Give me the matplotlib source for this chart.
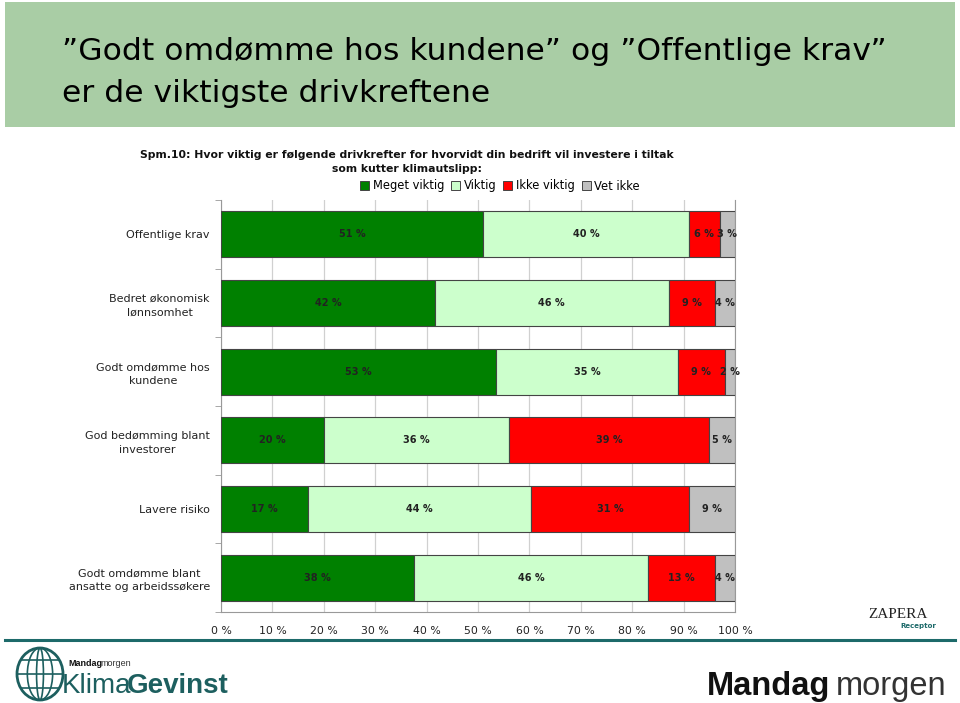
import matplotlib
matplotlib.use('Agg')
import matplotlib.pyplot as plt
import matplotlib.patches as mpatches
import numpy as np

plt.rcParams['font.family'] = ['DejaVu Sans']

categories = ['Offentlige krav', 'Bedret økonomisk\nlønnsomhet', 'Godt omdømme hos\nkundene',
              'God bedømming blant\ninvestorer', 'Lavere risiko', 'Godt omdømme blant\nansatte og arbeidssøkere']
series = ['Meget viktig', 'Viktig', 'Ikke viktig', 'Vet ikke']
meget_viktig = [51, 42, 53, 20, 17, 38]
viktig = [40, 46, 35, 36, 44, 46]
ikke_viktig = [6, 9, 9, 39, 31, 13]
vet_ikke = [3, 4, 2, 5, 9, 4]
colors = ['#008000', '#ccffcc', '#ff0000', '#c0c0c0']
xticks = [0, 10, 20, 30, 40, 50, 60, 70, 80, 90, 100]

vals = np.array([meget_viktig, viktig, ikke_viktig, vet_ikke], dtype=float)
shares = vals / vals.sum(axis=0) * 100

fig = plt.figure(figsize=(9.6, 7.03), dpi=100)
W, H = 960, 703

def fx(px):
    return px / W

def fy(py):
    return (H - py) / H

# green header band
fig.patches.append(mpatches.Rectangle((fx(5), fy(127)), fx(950), 125 / H, transform=fig.transFigure,
                                      facecolor='#a9cda5', edgecolor='none', zorder=0))
fig.text(fx(62), fy(52), '”Godt omdømme hos kundene” og ”Offentlige krav”', fontsize=22.6,
         va='center', ha='left', color='black')
fig.text(fx(62), fy(93), 'er de viktigste drivkreftene', fontsize=22.6, va='center', ha='left', color='black')

# question text
fig.text(fx(407), fy(155), 'Spm.10: Hvor viktig er følgende drivkrefter for hvorvidt din bedrift vil investere i tiltak',
         fontsize=7.8, fontweight='bold', ha='center', va='center', color='#111111')
fig.text(fx(407), fy(169), 'som kutter klimautslipp:', fontsize=7.8, fontweight='bold',
         ha='center', va='center', color='#111111')

ax = fig.add_axes([fx(221), fy(612), fx(735 - 221), 412 / H])
y = np.arange(len(categories))
left = np.zeros(len(categories))
for i, name in enumerate(series):
    ax.barh(y, shares[i], left=left, height=0.67, color=colors[i], edgecolor='#444444',
            linewidth=0.8, label=name, zorder=3)
    for j in range(len(categories)):
        ax.text(left[j] + shares[i][j] / 2, y[j], f'{int(vals[i][j])} %', ha='center', va='center',
                fontsize=7, fontweight='bold', color='#222222', zorder=4)
    left += shares[i]

ax.set_xlim(0, 100)
ax.set_ylim(len(categories) - 0.5, -0.5)
ax.set_xticks(xticks)
ax.set_xticklabels([f'{t} %' for t in xticks], fontsize=7.8, color='#222222')
ax.xaxis.grid(True, color='#d0d0d0', linewidth=0.9, zorder=0)
ax.set_yticks(y)
ax.set_yticklabels(categories, fontsize=8, color='#222222', linespacing=1.45)
ax.set_yticks(np.arange(len(categories) + 1) - 0.5, minor=True)
ax.tick_params(axis='y', which='major', length=0, pad=8)
ax.tick_params(axis='y', which='minor', length=4, color='#999999')
ax.tick_params(axis='x', length=0, pad=10)
ax.spines['top'].set_visible(False)
ax.spines['left'].set_color('#999999')
ax.spines['right'].set_color('#999999')
ax.spines['bottom'].set_color('#999999')
for lab in ax.get_yticklabels():
    lab.set_multialignment('center')

handles = [mpatches.Patch(facecolor=c, edgecolor='#444444', linewidth=0.7) for c in colors]
fig.legend(handles, series, loc='center', bbox_to_anchor=(fx(500), fy(186)), ncol=4, frameon=False,
           fontsize=8.3, handlelength=0.8, handleheight=0.8, handletextpad=0.3, columnspacing=0.6)

# bottom rule
fig.add_artist(plt.Line2D([fx(5), fx(955)], [fy(640), fy(640)], transform=fig.transFigure,
                          color='#1d6a6a', linewidth=2.2))

# logos as text
fig.text(fx(898), fy(615), 'ZAPERA', fontsize=11, family='Liberation Serif', ha='center', va='center',
         color='#222222')
fig.text(fx(918), fy(626), 'Receptor', fontsize=5, fontweight='bold', ha='center', va='center', color='#1d6a6a')

fig.text(fx(707), fy(686), 'Mandag', fontsize=23.5, fontweight='bold', family='Liberation Sans',
         ha='left', va='center', color='#111111')
fig.text(fx(836), fy(686), 'morgen', fontsize=23.5, family='Liberation Sans', ha='left', va='center',
         color='#333333')

gx, gy = fx(40), fy(674)
fig.patches.append(mpatches.Ellipse((gx, gy), fx(46), 52 / H, transform=fig.transFigure, fill=False,
                                    edgecolor='#1d5f5f', linewidth=2))
for wfrac in [0.55, 0.15]:
    fig.patches.append(mpatches.Ellipse((gx, gy), fx(46) * wfrac, 52 / H, transform=fig.transFigure,
                                        fill=False, edgecolor='#1d5f5f', linewidth=1.2))
for dy in [-14, 0, 14]:
    half = np.sqrt(max(0.0, 1 - (dy / 26) ** 2)) * 23
    fig.add_artist(plt.Line2D([fx(40 - half), fx(40 + half)], [fy(674 + dy), fy(674 + dy)],
                              transform=fig.transFigure, color='#1d5f5f', linewidth=1.2))
fig.text(fx(68), fy(664), 'Mandag', fontsize=6.5, fontweight='bold', family='Liberation Sans',
         ha='left', va='center', color='#111111')
fig.text(fx(100), fy(664), 'morgen', fontsize=6.5, family='Liberation Sans', ha='left', va='center',
         color='#333333')
fig.text(fx(62), fy(686), 'Klima', fontsize=20, family='Liberation Sans', ha='left', va='center',
         color='#1d5f5f')
fig.text(fx(127), fy(686), 'Gevinst', fontsize=20, fontweight='bold', family='Liberation Sans',
         ha='left', va='center', color='#1d5f5f')

fig.savefig('out.png', dpi=100)
